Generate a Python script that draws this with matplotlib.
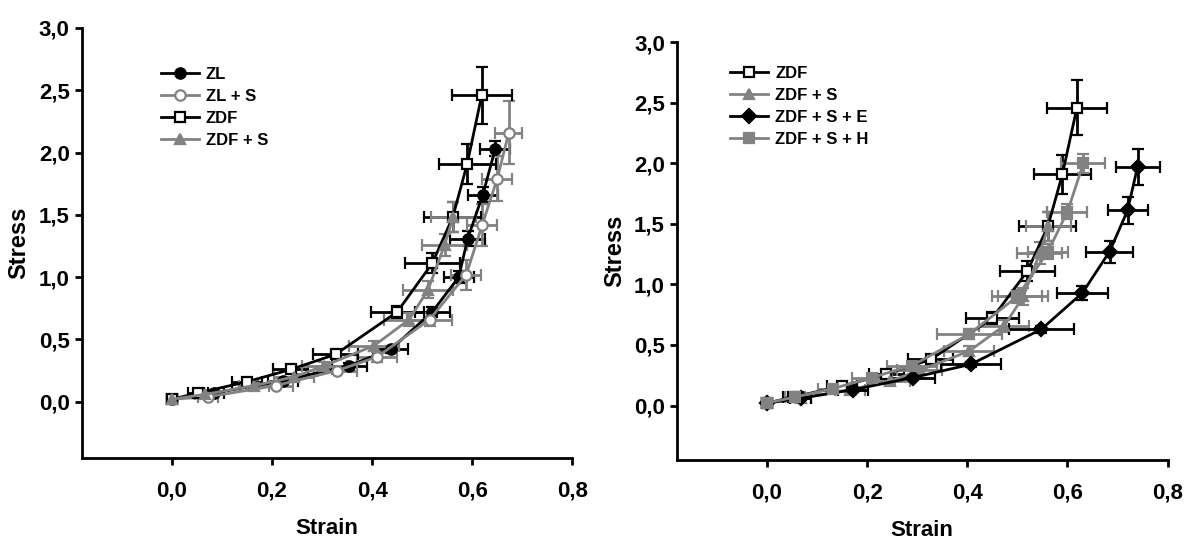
import matplotlib
matplotlib.use("Agg")
import matplotlib.pyplot as plt
from matplotlib.ticker import FuncFormatter

# =========================
# Data
# =========================
zl_x = [0.0, 0.085, 0.223, 0.354, 0.437, 0.52, 0.573, 0.591, 0.621, 0.646]
zl_y = [0.02, 0.07, 0.17, 0.29, 0.42, 0.72, 1.0, 1.31, 1.66, 2.03]
zl_xerr = [0.01, 0.02, 0.03, 0.035, 0.035, 0.035, 0.03, 0.035, 0.03, 0.03]
zl_yerr = [0.01, 0.01, 0.02, 0.02, 0.03, 0.04, 0.05, 0.06, 0.06, 0.06]

zls_x = [0.0, 0.073, 0.208, 0.33, 0.41, 0.515, 0.588, 0.62, 0.65, 0.673]
zls_y = [0.02, 0.04, 0.13, 0.25, 0.36, 0.66, 1.02, 1.42, 1.79, 2.16]
zls_xerr = [0.01, 0.02, 0.035, 0.04, 0.04, 0.045, 0.03, 0.03, 0.03, 0.027]
zls_yerr = [0.01, 0.01, 0.02, 0.03, 0.04, 0.05, 0.12, 0.17, 0.18, 0.25]

zdf_x = [0.0, 0.052, 0.15, 0.238, 0.327, 0.45, 0.52, 0.561, 0.59, 0.619]
zdf_y = [0.02, 0.07, 0.16, 0.26, 0.38, 0.72, 1.11, 1.48, 1.91, 2.46]
zdf_xerr = [0.01, 0.02, 0.03, 0.035, 0.045, 0.053, 0.055, 0.057, 0.057, 0.06]
zdf_yerr = [0.01, 0.01, 0.02, 0.03, 0.03, 0.05, 0.08, 0.12, 0.16, 0.23]

zdfs_x = [0.0, 0.067, 0.165, 0.245, 0.305, 0.404, 0.474, 0.512, 0.545, 0.562]
zdfs_y = [0.02, 0.06, 0.13, 0.2, 0.29, 0.45, 0.66, 0.9, 1.26, 1.48]
zdfs_xerr = [0.01, 0.02, 0.03, 0.04, 0.045, 0.05, 0.05, 0.05, 0.045, 0.045]
zdfs_yerr = [0.01, 0.01, 0.02, 0.02, 0.03, 0.04, 0.05, 0.07, 0.09, 0.12]

zdfse_x = [0.0, 0.067, 0.171, 0.291, 0.407, 0.548, 0.63, 0.684, 0.72, 0.74]
zdfse_y = [0.02, 0.06, 0.13, 0.23, 0.34, 0.63, 0.93, 1.27, 1.61, 1.97]
zdfse_xerr = [0.01, 0.02, 0.03, 0.045, 0.06, 0.065, 0.05, 0.047, 0.04, 0.044]
zdfse_yerr = [0.01, 0.01, 0.02, 0.02, 0.02, 0.03, 0.06, 0.09, 0.11, 0.15]

zdfsh_x = [0.0, 0.056, 0.132, 0.209, 0.29, 0.404, 0.5, 0.561, 0.6, 0.632]
zdfsh_y = [0.02, 0.07, 0.14, 0.23, 0.33, 0.59, 0.9, 1.27, 1.6, 2.0]
zdfsh_xerr = [0.01, 0.02, 0.03, 0.04, 0.05, 0.065, 0.05, 0.04, 0.04, 0.044]
zdfsh_yerr = [0.01, 0.01, 0.02, 0.02, 0.03, 0.04, 0.05, 0.06, 0.06, 0.08]

x_ticks = [0.0, 0.2, 0.4, 0.6, 0.8]
y_ticks = [0.0, 0.5, 1.0, 1.5, 2.0, 2.5, 3.0]

BLACK = "#000000"
GRAY = "#828282"

plt.rcParams["font.family"] = ["Liberation Sans Narrow", "Liberation Sans", "DejaVu Sans"]

fig = plt.figure(figsize=(12, 5.47), dpi=100)
ax1 = fig.add_axes([0.068, 0.163, 0.409, 0.786])
ax2 = fig.add_axes([0.564, 0.159, 0.409, 0.764])

comma = FuncFormatter(lambda v, p: f"{v:.1f}".replace(".", ","))


def draw(ax, x, y, xe, ye, color, marker, face, label):
    ax.errorbar(x, y, xerr=xe, yerr=ye, color=color, marker=marker,
                markerfacecolor=face, markeredgecolor=color, markeredgewidth=1.6,
                markersize=7.5, linewidth=2, elinewidth=2, capsize=4, capthick=2,
                label=label)


def style(ax, legend_x, legend_y):
    ax.set_xlim(-0.18, 0.8)
    ax.set_ylim(-0.45, 3.0)
    ax.set_xticks(x_ticks)
    ax.set_yticks(y_ticks)
    ax.xaxis.set_major_formatter(comma)
    ax.yaxis.set_major_formatter(comma)
    for s in ["top", "right"]:
        ax.spines[s].set_visible(False)
    for s in ["left", "bottom"]:
        ax.spines[s].set_linewidth(2)
    ax.tick_params(width=2, length=5, labelsize=16)
    for lab in ax.get_xticklabels() + ax.get_yticklabels():
        lab.set_fontweight("bold")
    ax.tick_params(axis="x", pad=11)
    ax.set_xlabel("Strain", fontsize=16, fontweight="bold", labelpad=12)
    ax.set_ylabel("Stress", fontsize=17, fontweight="bold", labelpad=6)
    # 凡例はエラーバーなしの線とマーカーだけ
    handles, labels = ax.get_legend_handles_labels()
    handles = [h[0] for h in handles]
    leg = ax.legend(handles, labels, loc="upper left",
                    bbox_to_anchor=(legend_x, legend_y), frameon=False,
                    fontsize=12, handlelength=2.3, labelspacing=0.42,
                    handletextpad=0.4, borderaxespad=0)
    for t in leg.get_texts():
        t.set_fontweight("bold")


# 左パネル
draw(ax1, zl_x, zl_y, zl_xerr, zl_yerr, BLACK, "o", BLACK, "ZL")
draw(ax1, zls_x, zls_y, zls_xerr, zls_yerr, GRAY, "o", "white", "ZL + S")
draw(ax1, zdf_x, zdf_y, zdf_xerr, zdf_yerr, BLACK, "s", "white", "ZDF")
draw(ax1, zdfs_x, zdfs_y, zdfs_xerr, zdfs_yerr, GRAY, "^", GRAY, "ZDF + S")
style(ax1, 0.148, 0.925)

# 右パネル
draw(ax2, zdf_x, zdf_y, zdf_xerr, zdf_yerr, BLACK, "s", "white", "ZDF")
draw(ax2, zdfs_x, zdfs_y, zdfs_xerr, zdfs_yerr, GRAY, "^", GRAY, "ZDF + S")
draw(ax2, zdfse_x, zdfse_y, zdfse_xerr, zdfse_yerr, BLACK, "D", BLACK, "ZDF + S + E")
draw(ax2, zdfsh_x, zdfsh_y, zdfsh_xerr, zdfsh_yerr, GRAY, "s", GRAY, "ZDF + S + H")
style(ax2, 0.095, 0.96)

fig.savefig("out.png", dpi=100)
